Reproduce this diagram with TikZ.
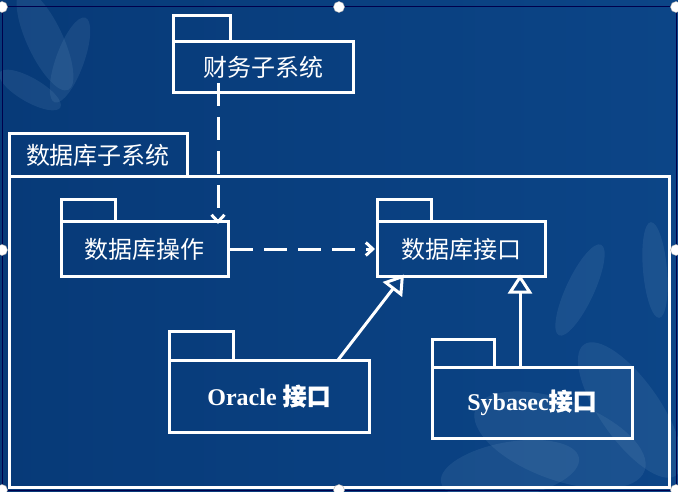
\documentclass[tikz,border=0pt]{standalone}
\usepackage{fontspec}
\setmainfont{Liberation Serif}
\newfontfamily\cjk{Noto Sans CJK SC}
\newfontfamily\cjkb[FakeBold=1.2]{Noto Sans CJK SC}
\usetikzlibrary{arrows.meta,positioning,calc}
\definecolor{bgA}{HTML}{073A78}
\definecolor{bgB}{HTML}{0C4587}
\definecolor{bgM}{HTML}{0A4080}
\definecolor{petal}{HTML}{6C97BE}
\tikzset{
  pkg/.style={draw=white, line width=3pt, rectangle, inner sep=0pt, outer sep=0pt, text=white,
    font=\fontsize{24}{28}\selectfont\cjk},
  tab/.style={draw=white, line width=3pt, rectangle, inner sep=0pt, outer sep=0pt, anchor=south west},
  dep/.style={draw=white, line width=3pt, dash pattern=on 23pt off 11pt,
    -{Straight Barb[length=7pt,width=13pt,line width=3pt]}},
  gen/.style={draw=white, line width=3pt,
    -{Triangle[open,length=19pt,width=24pt,line width=3pt,fill=bgM]}},
  handle/.style={circle, fill=white, draw=gray!60, line width=0.4pt, minimum size=11pt, inner sep=0pt},
  flower/.style={fill=petal, opacity=0.16}
}
\begin{document}
\begin{tikzpicture}[x=1pt,y=-1pt]
\useasboundingbox (0,0) rectangle (678,492);
% background
\shade[left color=bgA, right color=bgB] (0,0) rectangle (678,492);
% decorative lilies
\begin{scope}
  \fill[flower] (45,40) ellipse [x radius=18, y radius=55, rotate=25];
  \fill[flower] (70,60) ellipse [x radius=14, y radius=45, rotate=-20];
  \fill[flower] (30,90) ellipse [x radius=12, y radius=35, rotate=60];
  \fill[flower] (580,290) ellipse [x radius=14, y radius=50, rotate=-25];
  \fill[flower] (655,270) ellipse [x radius=12, y radius=48, rotate=5];
  \fill[flower] (560,440) ellipse [x radius=90, y radius=40, rotate=-20];
  \fill[flower] (630,410) ellipse [x radius=30, y radius=80, rotate=35];
  \fill[flower] (510,470) ellipse [x radius=70, y radius=28, rotate=10];
\end{scope}
% selection frame
\draw[line width=1pt, draw=black!70!blue] (2,7) rectangle (676,490);

% outer package: database subsystem
\node[pkg, minimum width=660pt, minimum height=310pt] (db) at (339,332) {};
\node[tab, minimum width=178pt, minimum height=43pt, text=white,
  font=\fontsize{24}{28}\selectfont\cjk] (dbtab) at (db.north west) {数据库子系统};

% finance subsystem
\node[pkg, minimum width=180pt, minimum height=51pt] (fin) at (263,67.5) {财务子系统};
\node[tab, minimum width=57pt, minimum height=26pt] (fintab) at (fin.north west) {};

% db operations
\node[pkg, minimum width=167pt, minimum height=54pt] (op) at (144.5,249) {数据库操作};
\node[tab, minimum width=54pt, minimum height=22pt] (optab) at (op.north west) {};

% db interface
\node[pkg, minimum width=168pt, minimum height=54pt] (intf) at (461,249) {数据库接口};
\node[tab, minimum width=54pt, minimum height=22pt] (intftab) at (intf.north west) {};

% oracle
\node[pkg, minimum width=200pt, minimum height=72pt] (ora) at (269,396)
  {\bfseries\rmfamily Oracle {\cjkb 接口}};
\node[tab, minimum width=64pt, minimum height=29pt] (oratab) at (ora.north west) {};

% sybase
\node[pkg, minimum width=200pt, minimum height=71pt] (syb) at (532,402.5)
  {\bfseries\rmfamily Sybasec{\cjkb 接口}};
\node[tab, minimum width=62pt, minimum height=28pt] (sybtab) at (syb.north west) {};

% connectors
\coordinate (finout) at ([xshift=45pt]fin.south west);
\draw[dep] ([yshift=10pt]finout) -- ([yshift=-2pt]finout |- op.north);
\draw[dep] ([xshift=2pt]op.east) -- ([xshift=-2pt]intf.west);
\draw[gen] ([xshift=-31pt]ora.north east) -- ([xshift=27pt,yshift=1.5pt]intf.south west);
\coordinate (sybout) at ([xshift=88pt]syb.north west);
\draw[gen] (sybout) -- ([yshift=1.5pt]sybout |- intf.south);

% selection handles
\foreach \p/\n in {{(2,7)}/h1,{(339,7)}/h2,{(676,7)}/h3,{(2,250)}/h4,{(676,250)}/h5,{(2,490)}/h6,{(339,490)}/h7,{(676,490)}/h8}
  \node[handle] (\n) at \p {};
\end{tikzpicture}
\end{document}
